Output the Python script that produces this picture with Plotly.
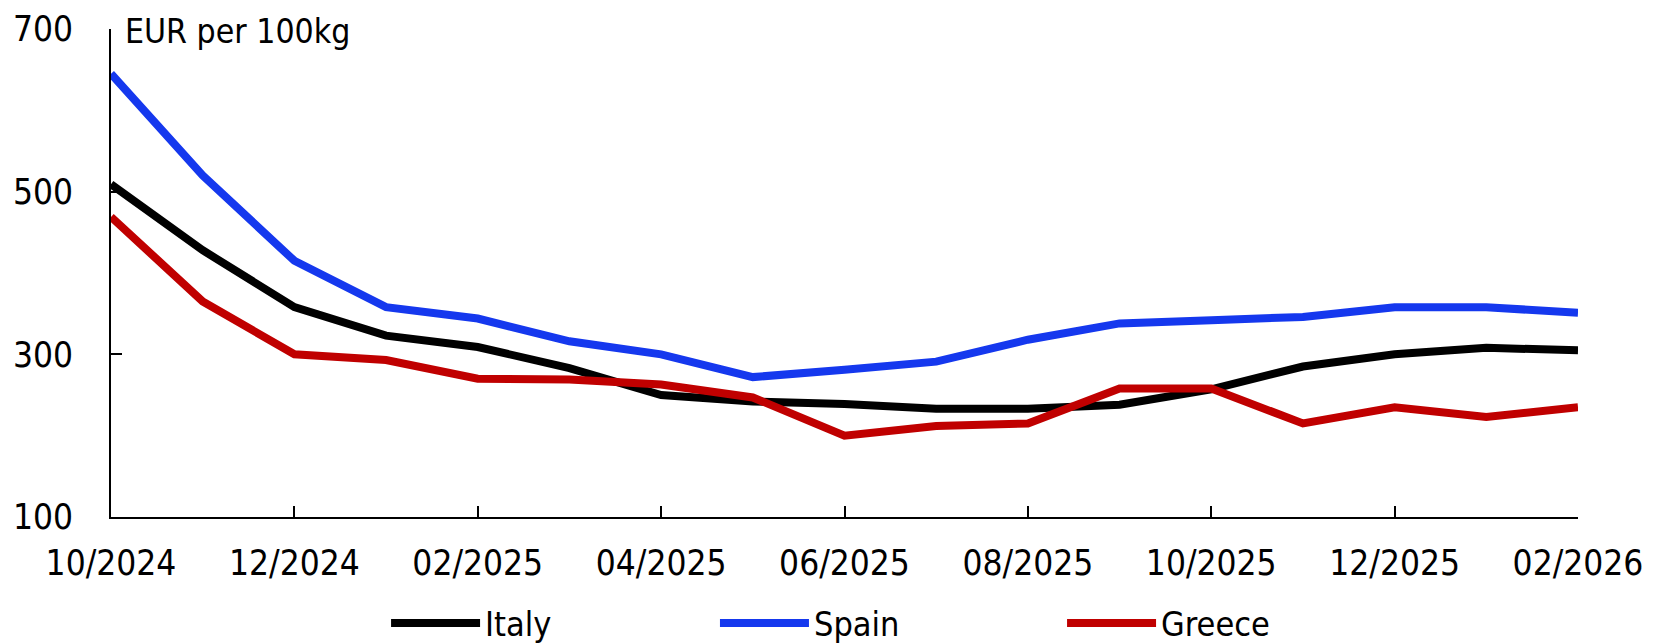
import plotly.graph_objects as go

months = ["10/2024", "11/2024", "12/2024", "01/2025", "02/2025", "03/2025", "04/2025",
          "05/2025", "06/2025", "07/2025", "08/2025", "09/2025", "10/2025", "11/2025",
          "12/2025", "01/2026", "02/2026"]
italy = [509, 428, 358, 323, 309, 283, 250, 242, 239, 233, 233, 238, 257, 285, 300, 308, 305]
spain = [645, 520, 415, 358, 344, 316, 300, 272, 281, 291, 318, 338, 342, 346, 358, 358, 351]
greece = [469, 365, 300, 293, 270, 269, 263, 247, 200, 212, 215, 258, 258, 215, 235, 223, 235]
tick_months = months[::2]
y_ticks = [100, 300, 500, 700]

FONT = "DejaVu Sans Condensed, DejaVu Sans, sans-serif"

series = [("Italy", italy, "#000000", "legend", 0.1875),
          ("Spain", spain, "#1538EE", "legend2", 0.4117),
          ("Greece", greece, "#C00000", "legend3", 0.6483)]

fig = go.Figure()
legends = {}
for name, vals, col, lg, lx in series:
    fig.add_trace(go.Scatter(x=months, y=vals, mode="lines", name=name, legend=lg,
                             line=dict(color=col, width=8)))
    legends[lg] = dict(orientation="h", x=lx, xanchor="left", y=-0.2178, yanchor="middle",
                       itemwidth=89, font=dict(family=FONT, size=34),
                       bgcolor="rgba(0,0,0,0)")

# page body has an 8px default margin: figure is offset by 8px, so size/margins compensate
fig.update_layout(
    width=1653, height=635,
    margin=dict(l=103, r=83, t=21, b=126, pad=0, autoexpand=False),
    paper_bgcolor="white", plot_bgcolor="white",
    font=dict(family=FONT, size=35, color="black"),
    showlegend=True,
    xaxis=dict(type="category", range=[0, 16], tickmode="array", tickvals=tick_months,
               ticktext=tick_months, showline=True, linecolor="black", linewidth=2,
               ticks="inside", ticklen=11, tickwidth=2, tickcolor="black",
               tickfont=dict(size=35),
               showgrid=False, zeroline=False, ticklabelstandoff=14, automargin=False),
    yaxis=dict(range=[100, 700], tickmode="array", tickvals=y_ticks,
               showline=True, linecolor="black", linewidth=2,
               ticks="inside", ticklen=11, tickwidth=2, tickcolor="black",
               tickfont=dict(size=35),
               showgrid=False, zeroline=False, ticklabelstandoff=29, automargin=False),
    annotations=[dict(text="EUR per 100kg", xref="paper", yref="paper", x=0, y=0.995,
                      xanchor="left", yanchor="middle", xshift=12, showarrow=False,
                      font=dict(family=FONT, size=33.5, color="black"))],
    **legends,
)

fig.write_html("out.html")
